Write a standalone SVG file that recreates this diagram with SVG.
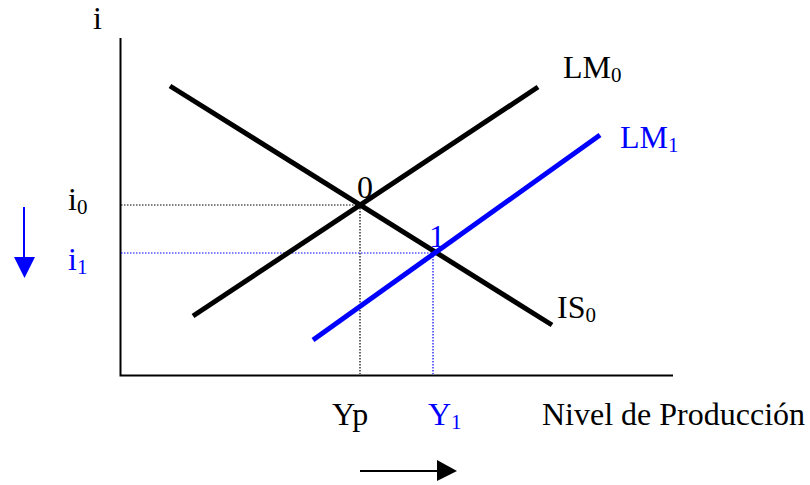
<svg xmlns="http://www.w3.org/2000/svg" width="810" height="485" viewBox="0 0 810 485">
<style>
text{font-family:"Liberation Serif","Times New Roman",serif;font-size:32px;fill:#000}
.b{fill:#0000ff}
.sub{font-size:21px}
.axis{stroke:#000;stroke-width:2;fill:none}
.curve{stroke-width:5;fill:none;stroke-linecap:butt}
.dot{stroke-width:1.2;stroke-dasharray:1.5 1.5;fill:none}
</style>
<rect width="810" height="485" fill="#fff"/>
<g id="axes">
<path class="axis" d="M120.5 38 V375.5 H673"/>
</g>
<g id="connectors">
<path class="dot" stroke="#000" d="M121 205 H360 M360 205 V374"/>
<path class="dot" stroke="#0000ff" d="M121 253 H433 M433 253 V374"/>
<line class="curve" stroke="#000" x1="170" y1="86" x2="552" y2="325"/>
<line class="curve" stroke="#000" x1="193" y1="316" x2="538" y2="87"/>
<line class="curve" stroke="#0000ff" x1="313" y1="340" x2="600" y2="135"/>
<line x1="24" y1="207" x2="24" y2="258" stroke="#0000ff" stroke-width="2"/>
<polygon points="14,257 35,257 24.5,278" fill="#0000ff"/>
<line x1="360" y1="471" x2="440" y2="471" stroke="#000" stroke-width="2"/>
<polygon points="437,460 457,471 437,481" fill="#000"/>
</g>
<g id="labels">
<text x="93" y="29">i</text>
<text x="68" y="210">i<tspan class="sub" dy="4">0</tspan></text>
<text class="b" x="68" y="270">i<tspan class="sub" dy="4">1</tspan></text>
<text x="357" y="198">0</text>
<text class="b" x="429" y="247">1</text>
<text x="563" y="78">LM<tspan class="sub" dy="4">0</tspan></text>
<text class="b" x="620" y="148">LM<tspan class="sub" dy="4">1</tspan></text>
<text x="557" y="318">IS<tspan class="sub" dy="4">0</tspan></text>
<text x="332" y="425">Yp</text>
<text class="b" x="428" y="425">Y<tspan class="sub" dy="4">1</tspan></text>
<text x="542" y="425">Nivel de Producción</text>
</g>
</svg>
